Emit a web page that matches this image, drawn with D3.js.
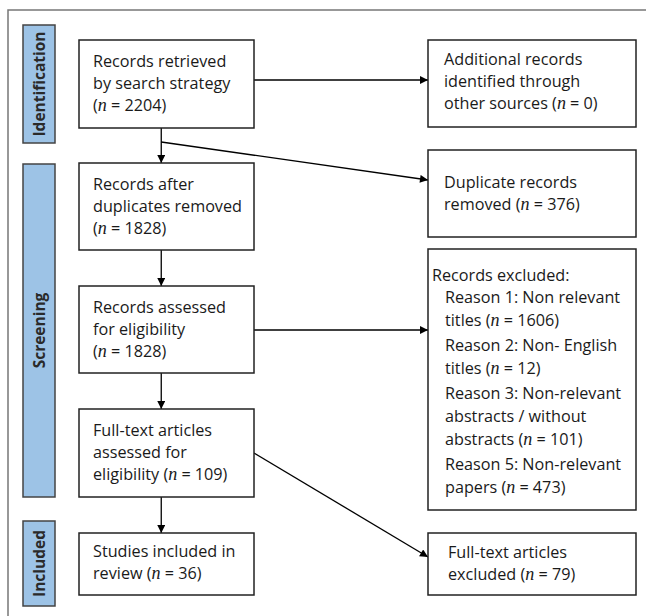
<!DOCTYPE html>
<html>
<head>
<meta charset="utf-8">
<script src="https://cdn.jsdelivr.net/npm/d3@7"></script>
<style>
  body { margin: 0; background: #fff; }
  svg { display: block; }
</style>
</head>
<body>
<svg id="chart"></svg>
<script>
// phase labels down the left side
const phases = ['Identification', 'Screening', 'Included'];

// main column of the flow
const mainSteps = [
  ['Records retrieved', 'by search strategy', '(n = 2204)'],
  ['Records after', 'duplicates removed', '(n = 1828)'],
  ['Records assessed', 'for eligibility', '(n = 1828)'],
  ['Full-text articles', 'assessed for', 'eligibility (n = 109)'],
  ['Studies included in', 'review (n = 36)']
];

// right column
const sideSteps = [
  ['Additional records', 'identified through', 'other sources (n = 0)'],
  ['Duplicate records', 'removed (n = 376)'],
  null,
  ['Full-text articles', 'excluded (n = 79)']
];

const excludedHeader = 'Records excluded:';
const exclusionReasons = [
  ['Reason 1: Non relevant', 'titles (n = 1606)'],
  ['Reason 2: Non- English', 'titles (n = 12)'],
  ['Reason 3: Non-relevant', 'abstracts / without', 'abstracts (n = 101)'],
  ['Reason 5: Non-relevant', 'papers (n = 473)']
];

const W = 646, H = 616;
const FONT = '"Open Sans", sans-serif';
const FS = 16.2;
const LH = 22;

const svg = d3.select('#chart').attr('width', W).attr('height', H);

svg.append('defs').append('marker')
  .attr('id', 'arrow')
  .attr('viewBox', '0 0 10 10')
  .attr('refX', 10).attr('refY', 5)
  .attr('markerWidth', 9).attr('markerHeight', 8)
  .attr('markerUnits', 'userSpaceOnUse')
  .attr('orient', 'auto')
  .append('path')
  .attr('d', 'M0,0L10,5L0,10Z')
  .attr('fill', '#000');

// layout
const leftX = d3.scaleLinear().domain([0, 1]).range([79, 254]);
const rightX = d3.scaleLinear().domain([0, 1]).range([428, 636]);
const mainY = [[40, 128], [163, 250], [286, 373], [409, 497], [533, 595]];
const sideY = [[40, 127], [150, 237], [249, 510], [533, 595]];
const phaseY = [[25, 143], [164, 497], [521, 606]];
const midX = leftX(0.47);

// outer frame (top + left only)
svg.append('path')
  .attr('d', `M8,${H}V10H${W}`)
  .attr('fill', 'none')
  .attr('stroke', '#777')
  .attr('stroke-width', 1.5);

// phase bars
const ph = svg.selectAll('.phase').data(phases).enter().append('g').attr('class', 'phase');
ph.append('rect')
  .attr('x', 23).attr('width', 32)
  .attr('y', (d, i) => phaseY[i][0])
  .attr('height', (d, i) => phaseY[i][1] - phaseY[i][0])
  .attr('fill', '#9dc3e6')
  .attr('stroke', '#444')
  .attr('stroke-width', 1.5);
ph.append('text')
  .attr('transform', (d, i) => `translate(44.5,${(phaseY[i][0] + phaseY[i][1]) / 2}) rotate(-90)`)
  .attr('text-anchor', 'middle')
  .attr('font-family', FONT)
  .attr('font-weight', 'bold')
  .attr('font-size', 15.5)
  .attr('fill', '#2a2a2a')
  .text(d => d);

function writeLine(sel, str, x, y) {
  const t = sel.append('text')
    .attr('x', x).attr('y', y)
    .attr('font-family', FONT)
    .attr('font-size', FS)
    .attr('fill', '#1a1a1a');
  str.split(/(\bn(?= = ))/).forEach(part => {
    if (!part) return;
    const s = t.append('tspan').text(part);
    if (part === 'n') {
      s.attr('font-family', '"Liberation Serif", serif')
        .attr('font-style', 'italic')
        .attr('font-size', 18);
    }
  });
}

function box(x0, x1, y0, y1) {
  svg.append('rect')
    .attr('x', x0).attr('y', y0)
    .attr('width', x1 - x0).attr('height', y1 - y0)
    .attr('fill', '#fff')
    .attr('stroke', '#222')
    .attr('stroke-width', 1.5);
}

// connectors
const links = [
  [[leftX(1), 80], [rightX(0), 80]],
  [[midX, mainY[0][1]], [midX, mainY[1][0]]],
  [[midX, 142], [rightX(0), 180]],
  [[midX, mainY[1][1]], [midX, mainY[2][0]]],
  [[leftX(1), 330], [rightX(0), 330]],
  [[midX, mainY[2][1]], [midX, mainY[3][0]]],
  [[leftX(1), 453], [rightX(0), 557]],
  [[midX, mainY[3][1]], [midX, mainY[4][0]]]
];
svg.selectAll('.link').data(links).enter().append('path')
  .attr('d', d => d3.line()(d))
  .attr('fill', 'none')
  .attr('stroke', '#000')
  .attr('stroke-width', 1.3)
  .attr('marker-end', 'url(#arrow)');

// main boxes
mainSteps.forEach((lines, i) => {
  const [y0, y1] = mainY[i];
  box(leftX(0), leftX(1), y0, y1);
  const first = y0 + (lines.length === 3 ? 26.5 : 24);
  lines.forEach((l, j) => writeLine(svg, l, 93, first + j * LH));
});

// side boxes
const sideFirst = [65, 188, null, 558];
const sideTx = [444, 444, null, 448];
sideSteps.forEach((lines, i) => {
  const [y0, y1] = sideY[i];
  box(rightX(0), rightX(1), y0, y1);
  if (!lines) return;
  lines.forEach((l, j) => writeLine(svg, l, sideTx[i], sideFirst[i] + j * LH));
});

// exclusion reasons
writeLine(svg, excludedHeader, 432, 281);
let yy = 303;
exclusionReasons.forEach(r => {
  r.forEach((l, j) => {
    writeLine(svg, l, 445, yy);
    yy += (j === r.length - 1) ? 25 : 23;
  });
});
</script>
</body>
</html>
